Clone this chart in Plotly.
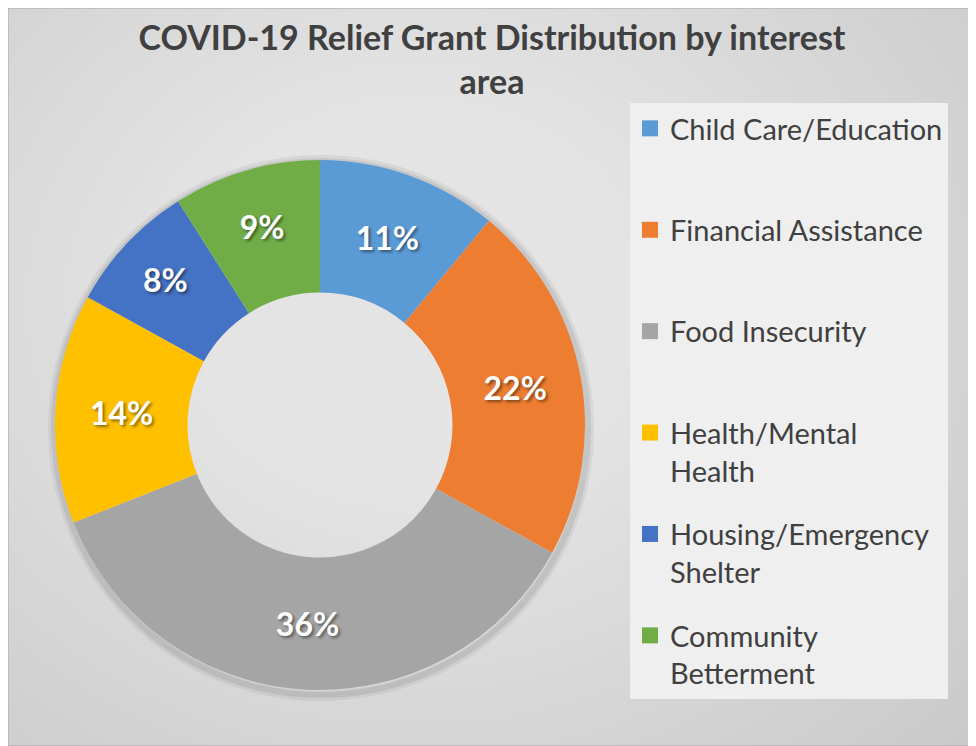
import plotly.graph_objects as go

# Данные диаграммы
categories = [
    "Child Care/Education",
    "Financial Assistance",
    "Food Insecurity",
    "Health/Mental<br>Health",
    "Housing/Emergency<br>Shelter",
    "Community<br>Betterment",
]
shares = [11, 22, 36, 14, 8, 9]
colors = ["#5B9BD5", "#ED7D31", "#A5A5A5", "#FFC000", "#4472C4", "#70AD47"]

# Страница браузера имеет отступ 8px, поэтому фигура чуть меньше окна
OFF = 8
W, H = 976 - OFF, 746 - OFF


def px(x):
    return (x - OFF) / W


def py(y):
    return 1 - (y - OFF) / H


fig = go.Figure()

# Кольцевая диаграмма
fig.add_trace(
    go.Pie(
        labels=[c.replace("<br>", " ") for c in categories],
        values=shares,
        hole=0.5,
        sort=False,
        direction="clockwise",
        rotation=0,
        marker=dict(colors=colors, line=dict(width=0)),
        texttemplate="%{percent:.0%}",
        textposition="inside",
        insidetextorientation="horizontal",
        textfont=dict(
            family="Lato", size=32, color="white", weight="bold",
            shadow="2px 2px 3px rgba(0,0,0,0.45)",
        ),
        domain=dict(x=[px(55), px(585)], y=[py(690), py(160)]),
        showlegend=False,
        hovertemplate="%{label}: %{value}%<extra></extra>",
    )
)

# Элементы легенды (по одному на категорию, чтобы задать интервал)
for i, (cat, col) in enumerate(zip(categories, colors)):
    n = cat.count("<br>") + 1
    fig.add_trace(
        go.Scatter(
            x=[None], y=[None],
            mode="markers",
            marker=dict(symbol="square", size=16, color=col),
            name=cat + "<br> " * (2 - n),
            legendgroup=f"g{i}",
            showlegend=True,
            hoverinfo="skip",
        )
    )

# Имитация радиального градиента фона
shapes = []
cx, cy = 0.42, 0.60
steps = 40
for i in range(steps):
    k = 1 - i / steps
    shapes.append(
        dict(
            type="circle", xref="paper", yref="paper", layer="below",
            x0=cx - 0.85 * k, x1=cx + 0.85 * k,
            y0=cy - 0.95 * k, y1=cy + 0.95 * k,
            fillcolor="white", opacity=0.035, line=dict(width=0),
        )
    )

# Мягкая тень по внешнему краю кольца
r_out = 265
for d, w, op in [(3, 10, 0.05), (2, 6, 0.07)]:
    shapes.append(
        dict(
            type="circle", xref="paper", yref="paper", layer="below",
            x0=px(320 - r_out - d + 1), x1=px(320 + r_out + d + 1),
            y0=py(425 + r_out + d + 3), y1=py(425 - r_out - d + 3),
            fillcolor="rgba(0,0,0,0)", opacity=op,
            line=dict(color="black", width=w),
        )
    )

# Рамка
shapes.append(
    dict(type="rect", xref="paper", yref="paper", x0=0, x1=1, y0=0, y1=1,
         line=dict(color="#a6a6a6", width=1))
)

fig.update_layout(
    width=W,
    height=H,
    margin=dict(l=0, r=0, t=0, b=0),
    paper_bgcolor="#c4c4c4",
    plot_bgcolor="rgba(0,0,0,0)",
    font=dict(family="Lato", color="#404040"),
    title=dict(
        text="<b>COVID-19 Relief Grant Distribution by interest<br>area</b>",
        x=0.5, xanchor="center", y=py(50), yanchor="middle",
        font=dict(size=34, color="#404040", family="Lato"),
    ),
    xaxis=dict(visible=False),
    yaxis=dict(visible=False),
    shapes=shapes,
    showlegend=True,
    legend=dict(
        x=px(630), xanchor="left",
        y=py(103), yanchor="top",
        bgcolor="#efefef",
        font=dict(size=29, color="#404040", family="Lato"),
        valign="top",
        traceorder="grouped",
        tracegroupgap=23,
        itemclick=False,
    ),
)

fig.write_html("out.html")
